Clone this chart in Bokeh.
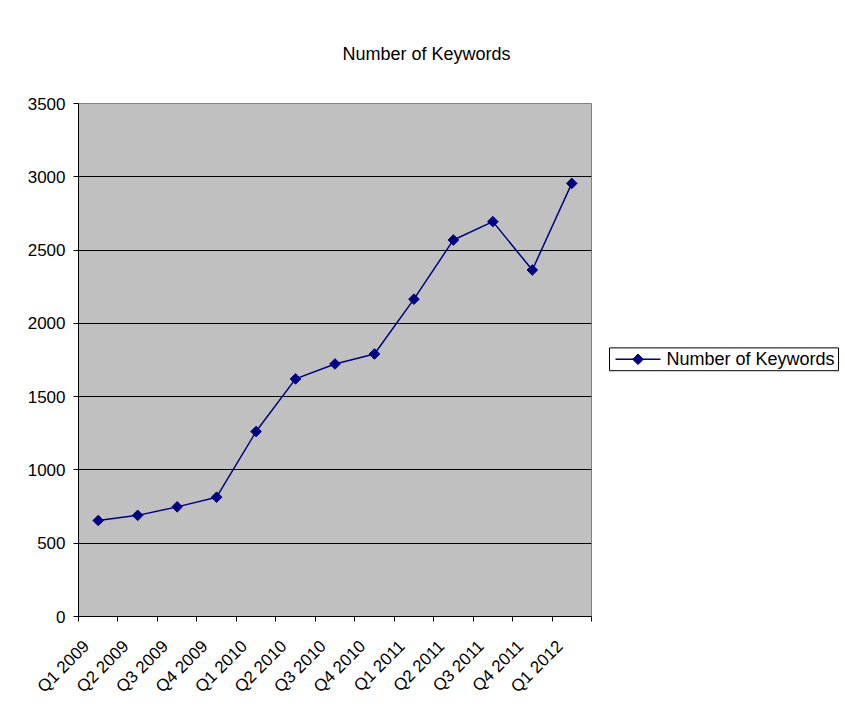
from math import pi
from bokeh.plotting import figure
from bokeh.layouts import row
from bokeh.models import Range1d, FixedTicker
from bokeh.core.properties import value
from bokeh.embed import file_html
from bokeh.resources import INLINE

categories = ["Q1 2009", "Q2 2009", "Q3 2009", "Q4 2009", "Q1 2010", "Q2 2010", "Q3 2010",
              "Q4 2010", "Q1 2011", "Q2 2011", "Q3 2011", "Q4 2011", "Q1 2012"]
keywords = [655, 690, 748, 814, 1262, 1621, 1723, 1791, 2165, 2569, 2694, 2364, 2955]
y_ticks = [0, 500, 1000, 1500, 2000, 2500, 3000, 3500]
series_name = "Number of Keywords"
title_text = "Number of Keywords"

FONT = "Liberation Sans"
NAVY = "#000080"

n = len(categories)
centers = [i + 0.5 for i in range(n)]        # category slot centres on the axis
bounds = list(range(n + 1))                  # category slot boundaries
label_shift = 0.3                            # rotated labels end slightly left of centre
label_pos = [c - label_shift for c in centers]

p = figure(width=600, height=720, output_backend="svg", toolbar_location=None,
           x_range=Range1d(0, n), y_range=Range1d(0, 3500),
           min_border_left=78, min_border_right=9,
           min_border_top=103, min_border_bottom=104)
p.background_fill_color = "#C0C0C0"
p.border_fill_color = "white"
p.outline_line_color = "#808080"
p.outline_line_width = 1

# title
p.title.text = title_text
p.title.text_font = FONT
p.title.text_font_size = "18px"
p.title.text_font_style = "normal"
p.title.text_color = "black"
p.title.align = "left"
p.title.offset = 264
p.title.standoff = 80

# y axis
ya = p.yaxis[0]
ya.ticker = FixedTicker(ticks=y_ticks)
ya.minor_tick_line_color = None
ya.major_tick_in = 0
ya.major_tick_out = 5
ya.major_tick_line_color = "black"
ya.axis_line_color = "black"
ya.major_label_text_font = FONT
ya.major_label_text_font_size = "17px"
ya.major_label_text_color = "black"
ya.major_label_standoff = 8
p.ygrid.grid_line_color = "black"
p.ygrid.grid_line_width = 1
p.xgrid.visible = False

# x axis: labels near slot centres, tick marks at slot boundaries
xa = p.xaxis[0]
xa.ticker = FixedTicker(ticks=label_pos, minor_ticks=bounds)
xa.major_label_overrides = {c: cat for c, cat in zip(label_pos, categories)}
xa.major_tick_line_color = None
xa.major_tick_in = 0
xa.major_tick_out = 5
xa.minor_tick_line_color = "black"
xa.minor_tick_in = 0
xa.minor_tick_out = 5
xa.axis_line_color = "black"
xa.major_label_orientation = pi / 4
xa.major_label_text_font = FONT
xa.major_label_text_font_size = "17px"
xa.major_label_text_color = "black"
xa.major_label_standoff = 22

# data
p.line(x=centers, y=keywords, line_color=NAVY, line_width=1.5)
p.scatter(x=centers, y=keywords, marker="square", angle=pi / 4, size=7.5,
          fill_color=NAVY, line_color=NAVY)

# legend panel (pixel coordinates of a side panel)
leg = figure(width=245, height=720, output_backend="svg", toolbar_location=None,
             x_range=Range1d(0, 245), y_range=Range1d(0, 720),
             min_border=0, x_axis_location=None, y_axis_location=None)
leg.grid.visible = False
leg.outline_line_color = None
leg.background_fill_color = "white"
leg.border_fill_color = "white"
leg.quad(left=[9], right=[238], bottom=[345], top=[377],
         fill_color="white", line_color="black", line_width=1)
leg.line(x=[15, 60], y=[361, 361], line_color=NAVY, line_width=1.5)
leg.scatter(x=[37.5], y=[361], marker="square", angle=pi / 4, size=7.5,
            fill_color=NAVY, line_color=NAVY)
leg.text(x=[66], y=[361], text=[series_name], text_font=value(FONT),
         text_font_size="18px", text_color="black", text_baseline="middle",
         text_align="left")

layout = row(p, leg, spacing=0)
open("out.html", "w").write(file_html(layout, INLINE))
